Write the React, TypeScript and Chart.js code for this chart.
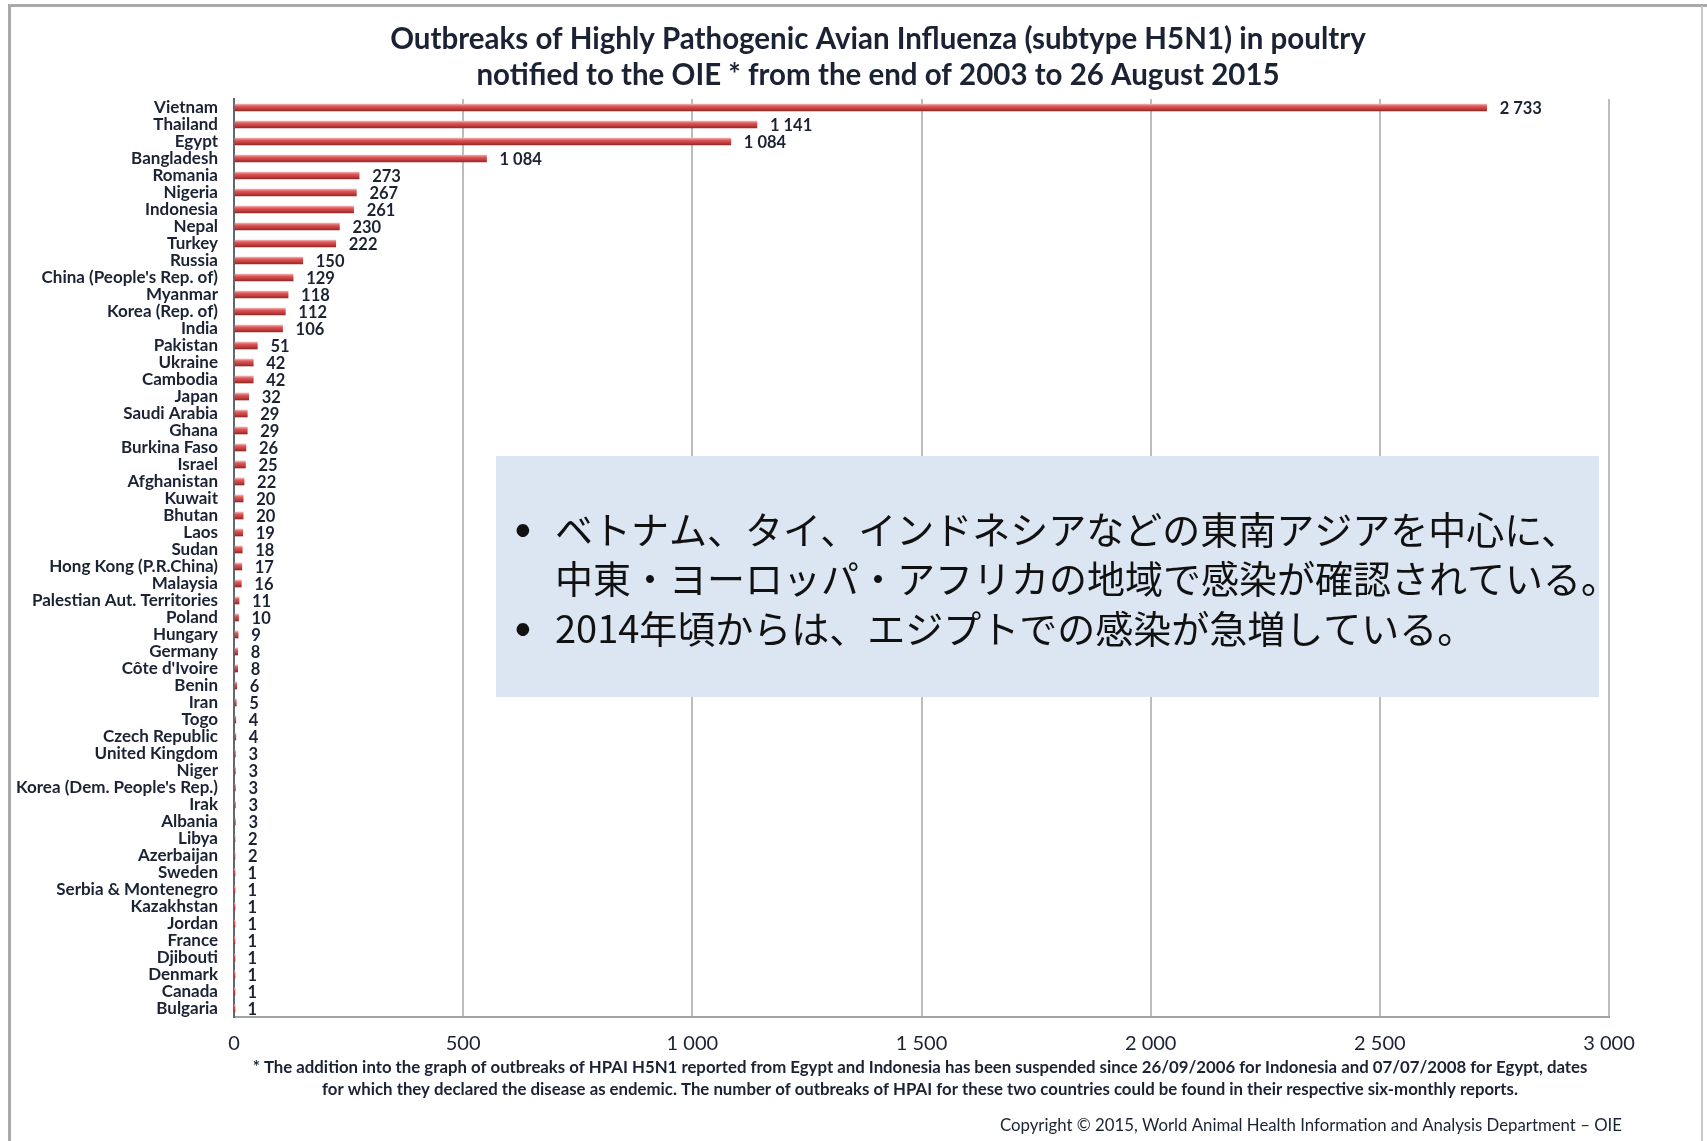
import React, { useEffect, useRef } from "react";
import { Chart, registerables } from "chart.js";

Chart.register(...registerables);

const countries = [
  "Vietnam", "Thailand", "Egypt", "Bangladesh", "Romania", "Nigeria", "Indonesia", "Nepal", "Turkey", "Russia",
  "China (People's Rep. of)", "Myanmar", "Korea (Rep. of)", "India", "Pakistan", "Ukraine", "Cambodia", "Japan",
  "Saudi Arabia", "Ghana", "Burkina Faso", "Israel", "Afghanistan", "Kuwait", "Bhutan", "Laos", "Sudan",
  "Hong Kong (P.R.China)", "Malaysia", "Palestian Aut. Territories", "Poland", "Hungary", "Germany", "Côte d'Ivoire",
  "Benin", "Iran", "Togo", "Czech Republic", "United Kingdom", "Niger", "Korea (Dem. People's Rep.)", "Irak",
  "Albania", "Libya", "Azerbaijan", "Sweden", "Serbia & Montenegro", "Kazakhstan", "Jordan", "France", "Djibouti",
  "Denmark", "Canada", "Bulgaria",
];

const outbreaks = [
  2733, 1141, 1084, 551, 273, 267, 261, 230, 222, 150,
  129, 118, 112, 106, 51, 42, 42, 32,
  29, 29, 26, 25, 22, 20, 20, 19, 18,
  17, 16, 11, 10, 9, 8, 8,
  6, 5, 4, 4, 3, 3, 3, 3,
  3, 2, 2, 1, 1, 1, 1, 1, 1,
  1, 1, 1,
];

// value labels as printed on the original (Bangladesh is printed as "1 084")
const printedLabelOverrides: Record<number, string> = { 3: "1 084" };

const xTickValues = [0, 500, 1000, 1500, 2000, 2500, 3000];

const titleLines = [
  "Outbreaks of Highly Pathogenic Avian Influenza (subtype H5N1) in poultry",
  "notified to the OIE * from the end of 2003 to 26 August 2015",
];

const footnoteLines = [
  "* The addition into the graph of outbreaks of HPAI H5N1 reported from Egypt and Indonesia has been suspended since 26/09/2006 for Indonesia and 07/07/2008 for Egypt, dates",
  "for which they declared the disease as endemic. The number of outbreaks of HPAI for these two countries could be found in their respective six-monthly reports.",
];

const copyrightText = "Copyright © 2015, World Animal Health Information and Analysis Department – OIE";

const noteLines = [
  { bullet: true, text: "ベトナム、タイ、インドネシアなどの東南アジアを中心に、" },
  { bullet: false, text: "中東・ヨーロッパ・アフリカの地域で感染が確認されている。" },
  { bullet: true, text: "2014年頃からは、エジプトでの感染が急増している。" },
];

const W = 1707;
const H = 1141;
const LATIN = "Lato, 'Liberation Sans', sans-serif";
const CJK = "'Noto Sans CJK JP', sans-serif";
const TEXT = "#1B2233";

function fmt(v: number): string {
  if (v >= 1000) {
    return `${Math.floor(v / 1000)} ${String(v % 1000).padStart(3, "0")}`;
  }
  return String(v);
}

const decorPlugin = {
  id: "decor",
  beforeDraw(chart: any) {
    const ctx = chart.ctx;
    ctx.save();
    ctx.fillStyle = "#ffffff";
    ctx.fillRect(0, 0, W, H);
    // slide frame
    ctx.fillStyle = "#A9A9A9";
    ctx.fillRect(8, 4, W - 8, 3);
    ctx.fillRect(8, 4, 3, H - 4);
    ctx.fillStyle = "#C8C8C8";
    ctx.fillRect(1701, 6, 2, H - 6);
    ctx.restore();
  },
  afterDatasetsDraw(chart: any) {
    const ctx = chart.ctx;
    const meta = chart.getDatasetMeta(0);
    ctx.save();
    ctx.font = `bold 16.5px ${LATIN}`;
    ctx.fillStyle = TEXT;
    ctx.textAlign = "left";
    ctx.textBaseline = "middle";
    meta.data.forEach((el: any, i: number) => {
      const { x, y } = el.getProps(["x", "y"], true);
      const label = printedLabelOverrides[i] ?? fmt(outbreaks[i]);
      ctx.fillText(label, x + 13, y + 1);
    });
    ctx.restore();
  },
  afterDraw(chart: any) {
    const ctx = chart.ctx;
    ctx.save();
    // title
    ctx.fillStyle = TEXT;
    ctx.textAlign = "center";
    ctx.textBaseline = "middle";
    ctx.font = `bold 29.5px ${LATIN}`;
    ctx.fillText(titleLines[0], 878, 39);
    ctx.fillText(titleLines[1], 878, 75);

    // footnotes
    ctx.font = `bold 16.8px ${LATIN}`;
    ctx.fillText(footnoteLines[0], 920, 1068);
    ctx.fillText(footnoteLines[1], 920, 1090);

    // copyright
    ctx.textAlign = "right";
    ctx.font = `16.8px ${LATIN}`;
    ctx.fillText(copyrightText, 1622, 1126);

    // annotation box
    ctx.fillStyle = "#DCE6F2";
    ctx.fillRect(496, 456, 1103, 241);
    ctx.fillStyle = "#111111";
    ctx.textAlign = "left";
    ctx.font = `38px ${CJK}`;
    const ys = [530, 579, 629];
    noteLines.forEach((ln, i) => {
      if (ln.bullet) {
        ctx.font = `34px ${LATIN}`;
        ctx.fillText("•", 513, ys[i]);
        ctx.font = `38px ${CJK}`;
      }
      ctx.fillText(ln.text, 555, ys[i]);
    });
    ctx.restore();
  },
};

export default function App() {
  const canvasRef = useRef<HTMLCanvasElement | null>(null);

  useEffect(() => {
    document.body.style.margin = "0";
    const canvas = canvasRef.current;
    if (!canvas) return;

    const barFill = (c: any) => {
      const chart = c.chart;
      const yScale = chart.scales?.y;
      if (!yScale || c.dataIndex === undefined || !isFinite(yScale.getPixelForValue(c.dataIndex))) {
        return "#CC4444";
      }
      const yc = yScale.getPixelForValue(c.dataIndex);
      const g = chart.ctx.createLinearGradient(0, yc - 3.5, 0, yc + 3.5);
      g.addColorStop(0, "#F2B3B3");
      g.addColorStop(0.3, "#DE5A5A");
      g.addColorStop(0.7, "#C43A3A");
      g.addColorStop(1, "#8F2A2A");
      return g;
    };

    const chart = new Chart(canvas, {
      type: "bar",
      data: {
        labels: countries,
        datasets: [
          {
            data: outbreaks,
            backgroundColor: barFill,
            borderWidth: 0,
            barThickness: 7,
          },
        ],
      },
      plugins: [decorPlugin],
      options: {
        indexAxis: "y",
        animation: false,
        responsive: true,
        maintainAspectRatio: false,
        layout: { padding: { top: 99, right: 98, left: 0, bottom: 0 } },
        plugins: {
          legend: { display: false },
          tooltip: { enabled: false },
          title: { display: false },
        },
        scales: {
          x: {
            type: "linear",
            min: 0,
            max: 3000,
            afterBuildTicks: (scale: any) => {
              scale.ticks = xTickValues.map((v) => ({ value: v }));
            },
            afterFit: (scale: any) => {
              scale.height = 124;
            },
            grid: { color: "#BDBDBD", lineWidth: 2, drawTicks: false },
            border: { display: true, color: "#A3A3A3", width: 2 },
            ticks: {
              padding: 15,
              color: TEXT,
              font: { family: LATIN, size: 20 },
              callback: (v: any) => fmt(Number(v)),
            },
          },
          y: {
            afterFit: (scale: any) => {
              scale.width = 234;
            },
            grid: { display: false, drawTicks: false },
            border: { display: true, color: "#5E6870", width: 2 },
            ticks: {
              autoSkip: false,
              padding: 16,
              color: TEXT,
              font: { family: LATIN, size: 17, weight: "bold" },
            },
          },
        },
      },
    });

    return () => {
      chart.destroy();
    };
  }, []);

  return (
    <div style={{ position: "relative", width: W, height: H }}>
      <canvas ref={canvasRef} />
    </div>
  );
}
